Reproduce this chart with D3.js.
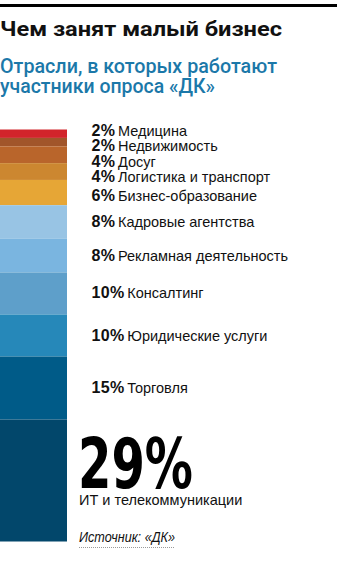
<!DOCTYPE html>
<html>
<head>
<meta charset="utf-8">
<script src="https://cdn.jsdelivr.net/npm/d3@7/dist/d3.min.js"></script>
<style>
  html, body { margin: 0; padding: 0; background: #fff; }
  svg { display: block; }
</style>
</head>
<body>
<div id="chart"></div>
<script>
const title = "Чем занят малый бизнес";
const subtitleLines = ["Отрасли, в которых работают", "участники опроса «ДК»"];
const source = "Источник: «ДК»";

const categories = [
  "Медицина", "Недвижимость", "Досуг", "Логистика и транспорт",
  "Бизнес-образование", "Кадровые агентства", "Рекламная деятельность",
  "Консалтинг", "Юридические услуги", "Торговля", "ИТ и телекоммуникации"
];
const values = [2, 2, 4, 4, 6, 8, 8, 10, 10, 15, 29];
const colors = [
  "#d2242b", "#a1552a", "#b9652b", "#cc8730", "#e6a636",
  "#98c4e4", "#7ab5e0", "#5e9fca", "#2688b9", "#005b88", "#02476b"
];

const W = 342, H = 567;
const svg = d3.select("#chart").append("svg").attr("width", W).attr("height", H);

// top rule
svg.append("rect").attr("x", 0).attr("y", 4).attr("width", 337).attr("height", 3).attr("fill", "#000");

svg.append("text").attr("x", 0).attr("y", 36)
  .attr("font-family", "Roboto, 'Liberation Sans', Arial, sans-serif")
  .attr("font-weight", 700).attr("font-size", 21).attr("fill", "#111")
  .attr("textLength", 282).attr("lengthAdjust", "spacingAndGlyphs")
  .text(title);

const subW = [277, 215];
subtitleLines.forEach((t, i) => {
  svg.append("text").attr("x", 0).attr("y", 72.5 + i * 20)
    .attr("font-family", "Roboto, 'Liberation Sans', Arial, sans-serif")
    .attr("font-weight", 500).attr("font-size", 20).attr("fill", "#1b78a9")
    .attr("textLength", subW[i]).attr("lengthAdjust", "spacingAndGlyphs")
    .text(t);
});

// stacked bar
const total = d3.sum(values);
const y = d3.scaleLinear().domain([0, total]).range([129.5, 541.5]);
const x = d3.scaleBand().domain(["all"]).range([0, 67]).padding(0);

let cum = 0;
const data = values.map((v, i) => {
  const d = { cat: categories[i], v, y0: cum, y1: cum + v, color: colors[i] };
  cum += v;
  return d;
});

svg.append("g").selectAll("rect").data(data).join("rect")
  .attr("x", x("all"))
  .attr("width", x.bandwidth())
  .attr("y", d => y(d.y0))
  .attr("height", d => y(d.y1) - y(d.y0))
  .attr("fill", d => d.color);

// small labels (all but last), pushed apart where segments are thin
const small = data.slice(0, -1);
let prev = -Infinity;
small.forEach(d => {
  const c = (y(d.y0) + y(d.y1)) / 2 + 5;
  d.ly = Math.max(c, prev + 15.5);
  prev = d.ly;
});
// shift the first crowded group up a little to balance it around its segments
const crowd = small.slice(0, 4);
const shift = d3.mean(crowd, d => d.ly - ((y(d.y0) + y(d.y1)) / 2 + 5)) * 0.45;
crowd.forEach(d => { d.ly -= shift; });

const lab = svg.append("g")
  .attr("font-family", "'Liberation Sans', Arial, sans-serif")
  .attr("font-size", 14.5).attr("fill", "#111");
small.forEach(d => {
  const t = lab.append("text").attr("x", 91.5).attr("y", d.ly);
  t.append("tspan").attr("font-weight", 700).attr("font-size", 16)
    .attr("letter-spacing", 0.4).text(d.v + "%");
  t.append("tspan").attr("dx", 2.5).text(d.cat);
});

// big label
const big = data[data.length - 1];
const bigBase = (y(big.y0) + y(big.y1)) / 2 + 7.5;
svg.append("text").attr("x", 78).attr("y", bigBase)
  .attr("font-family", "'DejaVu Sans Condensed', 'DejaVu Sans', sans-serif")
  .attr("font-weight", 700).attr("font-size", 70).attr("fill", "#000")
  .attr("textLength", 115).attr("lengthAdjust", "spacingAndGlyphs")
  .text(big.v + "%");
svg.append("text").attr("x", 79).attr("y", bigBase + 16.5)
  .attr("font-family", "'Liberation Sans', Arial, sans-serif")
  .attr("font-size", 14.5).attr("fill", "#111")
  .text(big.cat);

// source
svg.append("text").attr("x", 79).attr("y", y(total))
  .attr("font-family", "'Liberation Sans', Arial, sans-serif")
  .attr("font-style", "italic").attr("font-size", 14).attr("fill", "#111")
  .attr("textLength", 96).attr("lengthAdjust", "spacingAndGlyphs")
  .text(source);
svg.append("line").attr("x1", 79).attr("x2", 175)
  .attr("y1", y(total) + 6).attr("y2", y(total) + 6)
  .attr("stroke", "#999").attr("stroke-width", 1).attr("stroke-dasharray", "1,1");
</script>
</body>
</html>
